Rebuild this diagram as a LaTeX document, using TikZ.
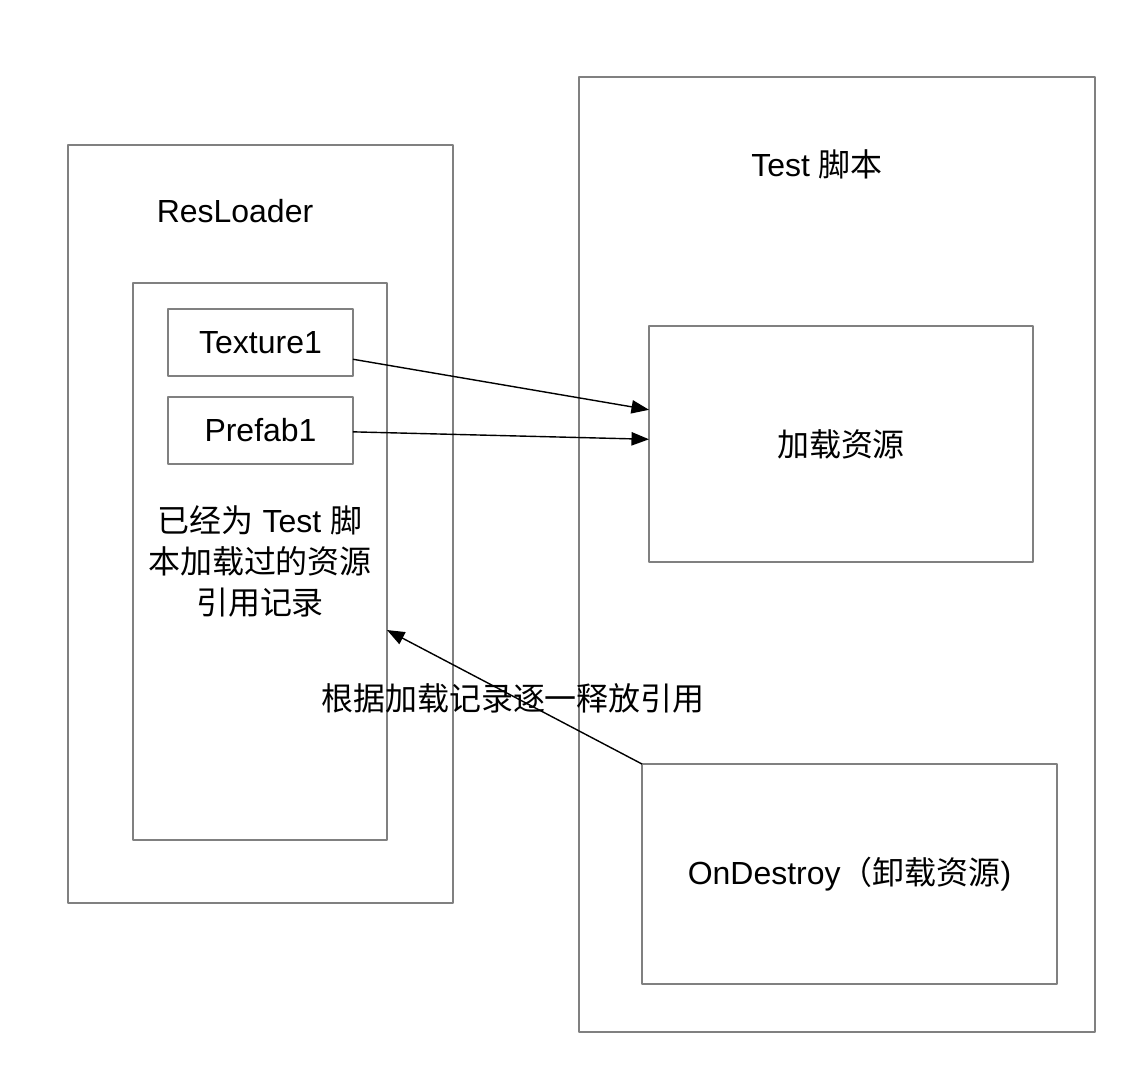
\documentclass[tikz,border=0pt]{standalone}
\usepackage{fontspec}
\setmainfont{Liberation Sans}
\newfontfamily\cjk{Noto Sans CJK SC}
\newcommand{\zhs}[1]{{\cjk #1}}
\usepackage{xcolor}
\usepackage{tikz}
\usetikzlibrary{arrows.meta,calc}
\definecolor{boxline}{HTML}{808080}

\begin{document}
\begin{tikzpicture}[x=0.02cm,y=-0.02cm,>={Triangle[length=10pt,width=7.6pt]},line join=round,
  box/.style={draw=boxline,line width=0.85pt,inner sep=0pt,outer sep=0pt,rectangle,align=center},
  txt/.style={font=\fontsize{18.2}{23.3}\selectfont},
  link/.style={->,black,line width=0.8pt}]
  \useasboundingbox (0,0) rectangle (1144,1090);
  \node[box,minimum width=7.70cm,minimum height=15.16cm] (res) at (260.5,524) {};
  \node[box,txt,minimum width=5.08cm,minimum height=11.14cm] (inner) at (260,561.5)
    {\zhs{已经为} Test \zhs{脚}\\\zhs{本加载过的资源}\\\zhs{引用记录}};
  \node[box,txt,minimum width=3.70cm,minimum height=1.34cm] (tex) at (260.5,342.5) {Texture1};
  \node[box,txt,minimum width=3.70cm,minimum height=1.34cm] (pre) at (260.5,430.5) {Prefab1};
  \node[txt] (reslabel) at (235,211) {ResLoader};
  \node[box,minimum width=10.32cm,minimum height=19.10cm] (test) at (837,554.5) {};
  \node[txt] (testlabel) at (817,164) {Test \zhs{脚本}};
  \node[box,txt,minimum width=7.68cm,minimum height=4.72cm] (load) at (841,444) {\zhs{加载资源}};
  \node[box,txt,minimum width=8.30cm,minimum height=4.40cm] (dst) at (849.5,874) {OnDestroy\zhs{（卸载资源})};
  \draw[link] ($(tex.east)!0.5!(tex.south east)$) -- ($(load.west)!0.29!(load.north west)$);
  \draw[link] ($(pre.east)!0.04!(pre.south east)$) -- ($(load.west)!0.04!(load.north west)$);
  \draw[link] (dst.north west) -- ($(inner.east)!0.246!(inner.south east)$);
  \node[txt] (relnote) at (513,698) {\zhs{根据加载记录逐一释放引用}};
\end{tikzpicture}
\end{document}
